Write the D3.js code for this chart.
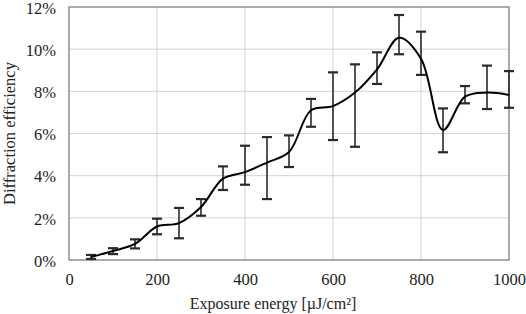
<!DOCTYPE html>
<html><head><meta charset="utf-8">
<script src="https://cdn.jsdelivr.net/npm/d3@7"></script>
<style>body{margin:0;background:#fff}svg{display:block}</style>
</head><body><svg id="c" width="526" height="314"></svg>
<script>
const energy = [50,100,150,200,250,300,350,400,450,500,550,600,650,700,750,800,850,900,950,1000];
const efficiency = [0.14,0.43,0.76,1.59,1.75,2.51,3.86,4.17,4.62,5.12,7.10,7.30,7.94,9.04,10.54,9.55,6.17,7.75,7.94,7.83];
const errUpper = [0.24,0.56,0.98,1.96,2.47,2.89,4.44,5.42,5.83,5.91,7.64,8.90,9.28,9.85,11.62,10.83,7.19,8.25,9.22,8.96];
const errLower = [0.05,0.28,0.55,1.22,1.03,2.10,3.32,3.57,2.89,4.41,6.32,5.69,5.37,8.35,9.76,8.78,5.11,7.43,7.16,7.22];
const xTicks = [0,200,400,600,800,1000];
const yTicks = [0,2,4,6,8,10,12];
const xTitle = "Exposure energy [\u00B5J/cm\u00B2]";
const yTitle = "Diffraction efficiency";

const svg = d3.select("#c");
const L = 69, R = 509, T = 7, B = 260;
const x = d3.scaleLinear().domain([0,1000]).range([L,R]);
const y = d3.scaleLinear().domain([0,12]).range([B,T]);
const font = "'Liberation Serif','Times New Roman',serif";
const fs = 16.5;

// gridlines
svg.append("g").selectAll("line.h").data(yTicks).join("line")
  .attr("x1",L).attr("x2",R).attr("y1",d=>y(d)).attr("y2",d=>y(d))
  .attr("stroke","#d4d4d4").attr("stroke-width",1);
svg.append("g").selectAll("line.v").data(xTicks).join("line")
  .attr("y1",T).attr("y2",B).attr("x1",d=>x(d)).attr("x2",d=>x(d))
  .attr("stroke","#d4d4d4").attr("stroke-width",1);
// border
svg.append("rect").attr("x",L).attr("y",T).attr("width",R-L).attr("height",B-T)
  .attr("fill","none").attr("stroke","#808080").attr("stroke-width",1.2);

// axes labels via d3 axes
const xAxis = svg.append("g").attr("transform",`translate(0,${B})`)
  .call(d3.axisBottom(x).tickValues(xTicks).tickSize(0).tickPadding(13).tickFormat(d3.format("d")));
const yAxis = svg.append("g").attr("transform",`translate(${L},0)`)
  .call(d3.axisLeft(y).tickValues(yTicks).tickSize(0).tickPadding(13).tickFormat(d=>d+"%"));
[xAxis,yAxis].forEach(a=>{a.select(".domain").remove();
  a.selectAll("text").attr("font-family",font).attr("font-size",fs).attr("fill","#222");});
yAxis.selectAll("text").attr("dy","0.38em");

// error bars
const eb = svg.append("g").attr("stroke","#2a2a2a").attr("stroke-width",1.6);
energy.forEach((e,i)=>{
  const cx = x(e);
  eb.append("line").attr("x1",cx).attr("x2",cx).attr("y1",y(errUpper[i])).attr("y2",y(errLower[i]));
  eb.append("line").attr("x1",cx-5).attr("x2",cx+5).attr("y1",y(errUpper[i])).attr("y2",y(errUpper[i])).attr("stroke-width",2.2);
  eb.append("line").attr("x1",cx-5).attr("x2",cx+5).attr("y1",y(errLower[i])).attr("y2",y(errLower[i])).attr("stroke-width",2.2);
});

// smoothed line
const line = d3.line().x((d,i)=>x(energy[i])).y(d=>y(d)).curve(d3.curveCatmullRom.alpha(0.5));
svg.append("path").datum(efficiency).attr("d",line)
  .attr("fill","none").attr("stroke","#000").attr("stroke-width",2);

// titles
svg.append("text").attr("x",273).attr("y",309).attr("text-anchor","middle")
  .attr("font-family",font).attr("font-size",16).attr("fill","#222").text(xTitle);
svg.append("text").attr("transform",`translate(15,${(T+B)/2}) rotate(-90)`).attr("text-anchor","middle")
  .attr("font-family",font).attr("font-size",fs).attr("fill","#222").text(yTitle);
</script></body></html>
